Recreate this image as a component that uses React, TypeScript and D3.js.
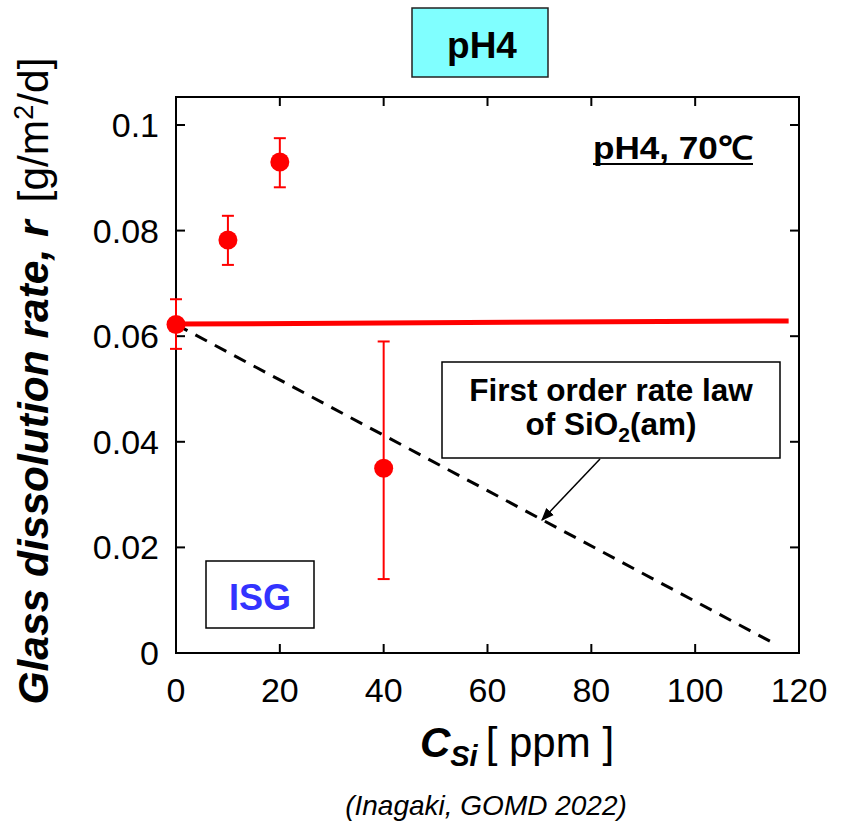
import React from "react";
import * as d3 from "d3";

const csi = [0, 10, 20, 40];
const rate = [0.0622, 0.0782, 0.093, 0.035];
const errLow = [0.0576, 0.0735, 0.0882, 0.014];
const errHigh = [0.067, 0.0828, 0.0975, 0.059];
const fitLineX = [0, 118];
const fitLineY = [0.0623, 0.0629];
const firstOrderX = [0, 115.8];
const firstOrderY = [0.0622, 0.0015];
const xTicks = [0, 20, 40, 60, 80, 100, 120];
const yTicks = [0, 0.02, 0.04, 0.06, 0.08, 0.1];
const yTickLabels = ["0", "0.02", "0.04", "0.06", "0.08", "0.1"];

const W = 841, H = 825;
const L = 176, R = 799, T = 97, B = 653;

export default function App() {
  const x = d3.scaleLinear().domain([0, 120]).range([L, R]);
  const y = d3.scaleLinear().domain([0, 0.1053]).range([B, T]);
  const line = d3.line<[number, number]>().x(d => x(d[0])).y(d => y(d[1]));
  const fit: [number, number][] = fitLineX.map((v, i) => [v, fitLineY[i]]);
  const fo: [number, number][] = firstOrderX.map((v, i) => [v, firstOrderY[i]]);
  const font = "Arial, 'Liberation Sans', sans-serif";
  const tl = 9;
  return (
    <svg width={W} height={H} style={{ position: "absolute", left: 0, top: 0, background: "#fff" }} fontFamily={font}>
      <defs>
        <marker id="ah" viewBox="0 0 10 10" refX="9" refY="5" markerWidth="13" markerHeight="13" orient="auto" markerUnits="userSpaceOnUse">
          <path d="M0,1 L10,5 L0,9 z" fill="#000" />
        </marker>
      </defs>
      <rect x={0} y={0} width={W} height={H} fill="#fff" />
      {/* title */}
      <rect x={412} y={8} width={136} height={69} fill="#80ffff" stroke="#222" strokeWidth={1.5} />
      <text x={482} y={58} textAnchor="middle" fontSize={37} fontWeight="bold">pH4</text>

      {/* frame */}
      <rect x={L} y={T} width={R - L} height={B - T} fill="none" stroke="#000" strokeWidth={2} />
      {xTicks.map((t, i) => (
        <g key={"x" + i}>
          <line x1={x(t)} x2={x(t)} y1={B} y2={B - tl} stroke="#000" strokeWidth={2} />
          <line x1={x(t)} x2={x(t)} y1={T} y2={T + tl} stroke="#000" strokeWidth={2} />
          <text x={x(t)} y={702} textAnchor="middle" fontSize={34}>{t}</text>
        </g>
      ))}
      {yTicks.map((t, i) => (
        <g key={"y" + i}>
          <line x1={L} x2={L + tl} y1={y(t)} y2={y(t)} stroke="#000" strokeWidth={2} />
          <line x1={R} x2={R - tl} y1={y(t)} y2={y(t)} stroke="#000" strokeWidth={2} />
          <text x={159} y={y(t) + 12} textAnchor="end" fontSize={34}>{yTickLabels[i]}</text>
        </g>
      ))}

      {/* lines */}
      <path d={line(fo) || ""} fill="none" stroke="#000" strokeWidth={3} strokeDasharray="13,9" />
      <path d={line(fit) || ""} fill="none" stroke="#ff0000" strokeWidth={5} />

      {/* error bars and points */}
      {csi.map((c, i) => (
        <g key={"p" + i}>
          <line x1={x(c)} x2={x(c)} y1={y(errLow[i])} y2={y(errHigh[i])} stroke="#ff0000" strokeWidth={2} />
          <line x1={x(c) - 6} x2={x(c) + 6} y1={y(errLow[i])} y2={y(errLow[i])} stroke="#ff0000" strokeWidth={2} />
          <line x1={x(c) - 6} x2={x(c) + 6} y1={y(errHigh[i])} y2={y(errHigh[i])} stroke="#ff0000" strokeWidth={2} />
          <circle cx={x(c)} cy={y(rate[i])} r={9.5} fill="#ff0000" />
        </g>
      ))}

      {/* pH4, 70C label */}
      <text x={593} y={159} fontSize={32} fontWeight="bold" textLength={160} lengthAdjust="spacingAndGlyphs">pH4, 70℃</text>
      <line x1={593} x2={753} y1={164} y2={164} stroke="#000" strokeWidth={2} />

      {/* annotation box */}
      <rect x={442} y={362} width={338} height={96} fill="#fff" stroke="#000" strokeWidth={1.5} />
      <text x={611} y={401} textAnchor="middle" fontSize={31.5} fontWeight="bold">First order rate law</text>
      <text x={611} y={435} textAnchor="middle" fontSize={31.5} fontWeight="bold">
        of SiO<tspan fontSize={21} dy={7}>2</tspan><tspan dy={-7}>(am)</tspan>
      </text>
      <line x1={600} y1={459} x2={542} y2={520} stroke="#000" strokeWidth={1.5} markerEnd="url(#ah)" />

      {/* ISG */}
      <rect x={206} y={561} width={108} height={67} fill="#fff" stroke="#000" strokeWidth={1.5} />
      <text x={260} y={610} textAnchor="middle" fontSize={36} fontWeight="bold" fill="#3333ff">ISG</text>

      {/* y label */}
      <text transform="translate(48,381) rotate(-90)" textAnchor="middle" fontSize={42.5}>
        <tspan fontWeight="bold" fontStyle="italic">Glass dissolution rate, r</tspan>
        <tspan dx={18}>[g/m</tspan><tspan fontSize={27} dy={-15}>2</tspan><tspan dy={15}>/d]</tspan>
      </text>

      {/* x label */}
      <text x={517} y={757} textAnchor="middle" fontSize={42}>
        <tspan fontWeight="bold" fontStyle="italic">C</tspan>
        <tspan fontWeight="bold" fontStyle="italic" fontSize={29} dy={9}>Si</tspan>
        <tspan dy={-9} dx={8}>[ ppm ]</tspan>
      </text>

      {/* footer */}
      <text x={486} y={815} textAnchor="middle" fontSize={28} fontStyle="italic">(Inagaki, GOMD 2022)</text>
    </svg>
  );
}
